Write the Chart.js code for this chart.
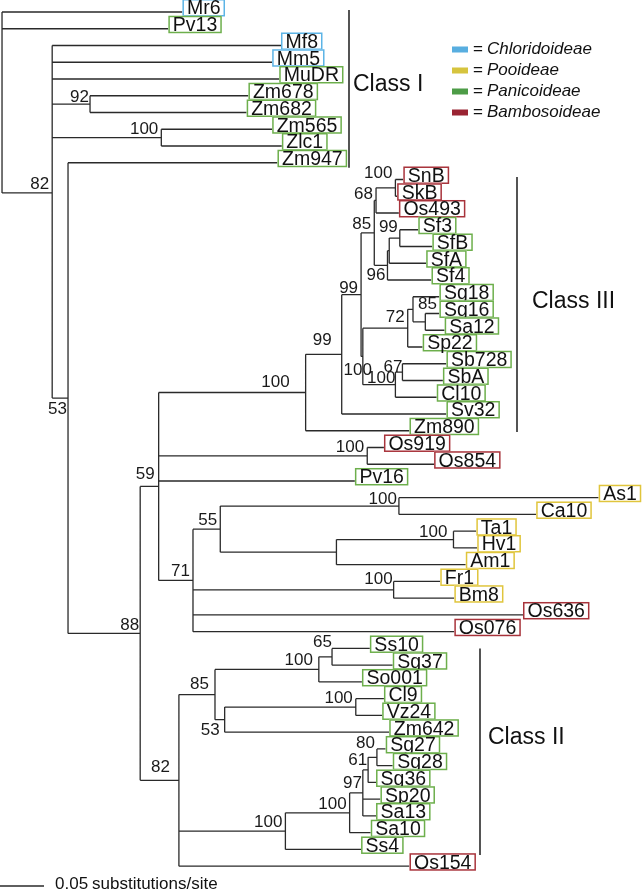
<!DOCTYPE html>
<html>
<head>
<meta charset="utf-8">
<script src="https://cdn.jsdelivr.net/npm/chart.js@4.4.0/dist/chart.umd.min.js"></script>
<style>
  html, body { margin: 0; padding: 0; background: #fff; }
  #wrap { width: 644px; height: 891px; }
</style>
</head>
<body>
<div id="wrap"><canvas id="tree" width="644" height="891"></canvas></div>
<script>
// tips, top to bottom; depth = substitutions/site from the root
const leafNames = ["Mr6", "Pv13", "Mf8", "Mm5", "MuDR", "Zm678", "Zm682", "Zm565", "Zlc1", "Zm947",
  "SnB", "SkB", "Os493", "Sf3", "SfB", "SfA", "Sf4", "Sg18", "Sg16", "Sa12", "Sp22", "Sb728", "SbA", "Cl10", "Sv32",
  "Zm890", "Os919", "Os854", "Pv16", "As1", "Ca10", "Ta1", "Hv1", "Am1", "Fr1", "Bm8", "Os636", "Os076",
  "Ss10", "Sg37", "So001", "Cl9", "Vz24", "Zm642", "Sg27", "Sg28", "Sg36", "Sp20", "Sa13", "Sa10", "Ss4", "Os154"];
const leafDepth = [0.205, 0.189, 0.317, 0.307, 0.315, 0.280, 0.278, 0.307, 0.318, 0.313,
  0.456, 0.449, 0.451, 0.473, 0.489, 0.482, 0.488, 0.497, 0.497, 0.503, 0.478, 0.505, 0.501, 0.494, 0.505,
  0.463, 0.434, 0.491, 0.401, 0.678, 0.607, 0.539, 0.540, 0.527, 0.498, 0.514, 0.592, 0.514,
  0.418, 0.444, 0.409, 0.434, 0.432, 0.440, 0.436, 0.444, 0.425, 0.430, 0.425, 0.419, 0.408, 0.463];
// 0 Chloridoideae, 1 Pooideae, 2 Panicoideae, 3 Bambosoideae
const leafGroup = [0, 2, 0, 0, 2, 2, 2, 2, 2, 2,
  3, 3, 3, 2, 2, 2, 2, 2, 2, 2, 2, 2, 2, 2, 2,
  2, 3, 3, 2, 1, 1, 1, 1, 1, 1, 1, 3, 3,
  2, 2, 2, 2, 2, 2, 2, 2, 2, 2, 2, 2, 2, 3];

// internal nodes
const nodeIds = ["root", "n82", "n92", "n100a", "n53", "n88", "n59", "n306", "n342", "nA", "n85", "n68", "nSnB",
  "n96", "nX", "nSf", "nB", "n72", "nSg85", "nSgSa", "n100p", "n67", "nOs919", "n71", "n55", "nAs", "nTaAm", "nTa",
  "nFr", "n82b", "n85b", "n100c", "n65", "n53b", "nCl", "n100d", "n100e", "n97", "n61", "n80"];
const nodeDepth = [0, 0.057, 0.100, 0.181, 0.075, 0.157, 0.178, 0.345, 0.386, 0.408, 0.423, 0.425, 0.447,
  0.438, 0.440, 0.452, 0.410, 0.461, 0.467, 0.481, 0.447, 0.455, 0.415, 0.217, 0.248, 0.451, 0.380, 0.513,
  0.445, 0.201, 0.242, 0.360, 0.375, 0.253, 0.402, 0.322, 0.395, 0.410, 0.416, 0.426];
const nodeKids = [
  ["Mr6", "Pv13", "n82"],
  ["Mf8", "Mm5", "MuDR", "n92", "n100a", "n53"],
  ["Zm678", "Zm682"],
  ["Zm565", "Zlc1"],
  ["Zm947", "n88"],
  ["n59", "n82b"],
  ["n306", "nOs919", "Pv16", "n71"],
  ["n342", "Zm890"],
  ["nA", "Sv32"],
  ["n85", "nB"],
  ["n68", "n96"],
  ["nSnB", "Os493"],
  ["SnB", "SkB"],
  ["nX", "Sf4"],
  ["nSf", "SfA"],
  ["Sf3", "SfB"],
  ["n72", "n100p"],
  ["nSg85", "Sp22"],
  ["Sg18", "nSgSa"],
  ["Sg16", "Sa12"],
  ["n67", "Cl10"],
  ["Sb728", "SbA"],
  ["Os919", "Os854"],
  ["n55", "nFr", "Os636", "Os076"],
  ["nAs", "nTaAm"],
  ["As1", "Ca10"],
  ["nTa", "Am1"],
  ["Ta1", "Hv1"],
  ["Fr1", "Bm8"],
  ["n85b", "n100d", "Os154"],
  ["n100c", "n53b"],
  ["n65", "So001"],
  ["Ss10", "Sg37"],
  ["nCl", "Zm642"],
  ["Cl9", "Vz24"],
  ["n100e", "Ss4"],
  ["n97", "Sa10"],
  ["n61", "Sp20", "Sa13"],
  ["n80", "Sg36"],
  ["Sg27", "Sg28"]
];
const nodeSupport = [null, 82, 92, 100, 53, 88, 59, 100, 99, 99, 85, 68, 100,
  96, null, 99, 100, 72, 85, null, 100, 67, 100, 71, 55, 100, null, 100,
  100, 82, 85, 100, 65, 53, 100, 100, 100, 97, 61, 80];
// the one node that is not drawn half way between its outer children
const nodeRowFixed = { n82: 10.8 };

const groupNames = ["Chloridoideae", "Pooideae", "Panicoideae", "Bambosoideae"];
const classNames = ["Class I", "Class III", "Class II"];
const classFromRow = [-0.12, 9.85, 38.0];
const classToRow = [9.3, 25.07, 50.33];
const classLabelRow = [4.35, 17.3, 43.3];
const scaleBarLength = 0.05;

// styling
const boxColors = ["#5cb4e6", "#e0c53c", "#6daf4c", "#a8333b"];
const swatchColors = ["#58aee0", "#d6c43e", "#4d9c47", "#9a2433"];
const classBarX = [349, 517, 480];
const classTextX = [353, 532, 488];
// bootstrap label nudges [dx, dy] from the default spot (left of node, above its branch)
const nudge = {
  n92: [2, 2], n53: [2, 20], n59: [-1, -3], n306: [-13, -2], n342: [-7, -5], nA: [0, 2],
  n68: [0, 3], nSnB: [0, -6], nSf: [1, -2], n96: [1, 19], nSg85: [27, 4], n72: [0, -2],
  n67: [3, 4], nB: [12, 23], n100p: [3, 2], nAs: [1, 2], nTa: [-3, 1], nFr: [2, -2],
  n82b: [-6, -4], n85b: [-3, -2], n100c: [-3, 0], n65: [3, -6], n53b: [-2, 19],
  n97: [2, -1], n61: [2, -1], n80: [1, -5], n88: [2, 1]
};

// layout of the tree: tips on their rows, nodes half way between outer children
const rowOf = {};
const depthOf = {};
leafNames.forEach((n, i) => { rowOf[n] = i; depthOf[n] = leafDepth[i]; });
nodeIds.forEach((n, i) => { depthOf[n] = nodeDepth[i]; });
function place(id) {
  if (id in rowOf) return rowOf[id];
  const kids = nodeKids[nodeIds.indexOf(id)];
  const rows = kids.map(place);
  rowOf[id] = id in nodeRowFixed ? nodeRowFixed[id] : (rows[0] + rows[rows.length - 1]) / 2;
  return rowOf[id];
}
place("root");

const segs = [];
nodeIds.forEach((id, i) => {
  const kids = nodeKids[i];
  const d = nodeDepth[i];
  const rows = kids.map(k => rowOf[k]);
  segs.push({ x: d, y: Math.min(...rows) }, { x: d, y: Math.max(...rows) }, { x: d, y: null });
  kids.forEach(k => {
    segs.push({ x: d, y: rowOf[k] }, { x: depthOf[k], y: rowOf[k] }, { x: depthOf[k], y: null });
  });
});

const FONT = '"Liberation Sans", Arial, Helvetica, sans-serif';

const treeText = {
  id: "treeText",
  afterDatasetsDraw(chart) {
    const { ctx, scales: { x, y } } = chart;
    ctx.save();

    // support values
    ctx.font = "17px " + FONT;
    ctx.fillStyle = "#1a1a1a";
    ctx.textAlign = "right";
    ctx.textBaseline = "alphabetic";
    nodeIds.forEach((id, i) => {
      if (nodeSupport[i] == null) return;
      const nd = nudge[id] || [0, 0];
      const px = x.getPixelForValue(nodeDepth[i]) - 3 + nd[0];
      const py = y.getPixelForValue(rowOf[id]) - 4 + nd[1];
      ctx.fillText(String(nodeSupport[i]), px, py);
    });

    // tip boxes
    ctx.font = "19.5px " + FONT;
    ctx.textAlign = "left";
    leafNames.forEach((name, i) => {
      const px = x.getPixelForValue(leafDepth[i]);
      const py = y.getPixelForValue(i);
      const w = ctx.measureText(name).width + 9;
      ctx.fillStyle = "#fff";
      ctx.fillRect(px, py - 13, w, 17.5);
      ctx.strokeStyle = boxColors[leafGroup[i]];
      ctx.lineWidth = 1.5;
      ctx.strokeRect(px + 0.75, py - 12.25, w - 1.5, 16);
      ctx.fillStyle = "#111";
      ctx.fillText(name, px + 4.5, py + 2.5);
    });

    // class brackets
    ctx.strokeStyle = "#2a2a2a";
    ctx.lineWidth = 1.6;
    ctx.font = "23px " + FONT;
    ctx.fillStyle = "#111";
    ctx.textBaseline = "middle";
    classNames.forEach((c, i) => {
      ctx.beginPath();
      ctx.moveTo(classBarX[i], y.getPixelForValue(classFromRow[i]));
      ctx.lineTo(classBarX[i], y.getPixelForValue(classToRow[i]));
      ctx.stroke();
      ctx.fillText(c, classTextX[i], y.getPixelForValue(classLabelRow[i]));
    });

    // legend
    groupNames.forEach((g, i) => {
      const cy = 49.5 + i * 21;
      ctx.fillStyle = swatchColors[i];
      ctx.fillRect(452, cy - 3, 16, 6);
      ctx.fillStyle = "#111";
      ctx.font = "17px " + FONT;
      ctx.fillText("=", 473, cy);
      ctx.font = "italic 17px " + FONT;
      ctx.fillText(g, 487, cy);
    });

    // scale bar
    const x0 = x.getPixelForValue(x.min);
    const x1 = x.getPixelForValue(x.min + scaleBarLength);
    ctx.strokeStyle = "#2a2a2a";
    ctx.lineWidth = 1.3;
    ctx.beginPath();
    ctx.moveTo(x0, 886);
    ctx.lineTo(x1, 886);
    ctx.stroke();
    ctx.font = "17px " + FONT;
    ctx.textBaseline = "alphabetic";
    ctx.fillStyle = "#111";
    ctx.fillText("0.05", 55, 889);
    ctx.fillText("substitutions/site", 92, 889);

    ctx.restore();
  }
};

new Chart(document.getElementById("tree"), {
  type: "scatter",
  data: {
    datasets: [{
      data: segs,
      showLine: true,
      spanGaps: false,
      borderColor: "#2a2a2a",
      borderWidth: 1.3,
      pointRadius: 0,
      tension: 0
    }]
  },
  options: {
    responsive: false,
    animation: false,
    events: [],
    layout: { padding: 0 },
    scales: {
      x: { type: "linear", min: -0.0023, max: 0.7295, display: false },
      y: { type: "linear", min: -0.716, max: 52.48, reverse: true, display: false }
    },
    plugins: {
      legend: { display: false },
      tooltip: { enabled: false }
    }
  },
  plugins: [treeText]
});
</script>
</body>
</html>
